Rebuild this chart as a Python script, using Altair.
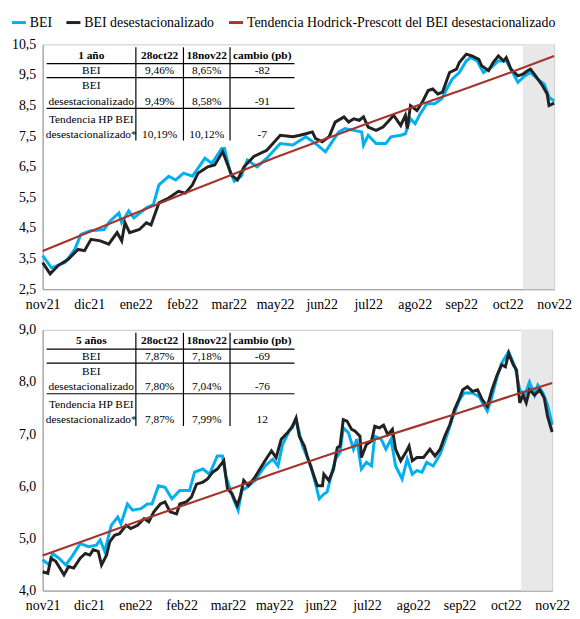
import altair as alt
import pandas as pd

MONTHS = ["nov21", "dic21", "ene22", "feb22", "mar22", "may22",
          "jun22", "jul22", "ago22", "sep22", "oct22", "nov22"]
SERIES = ["BEI", "BEI desestacionalizado",
          "Tendencia Hodrick-Prescott del BEI desestacionalizado"]
COLORS = ["#00b0f0", "#222222", "#a6342f"]
BAND = [10.33, 11.0]  # periodo 28oct22 - 18nov22

# ---- 1 año ----
T_BEI_1 = [0, 0.19, 0.48, 0.69, 0.82, 1.03, 1.32, 1.45, 1.64, 1.70, 1.85, 1.96, 2.23, 2.38,
           2.50, 2.71, 2.86, 3.03, 3.22, 3.49, 3.64, 3.85, 3.91, 4.02, 4.12, 4.27, 4.40,
           4.61, 4.82, 5.11, 5.38, 5.66, 5.91, 6.08, 6.27, 6.37, 6.50, 6.69, 6.86, 6.90,
           7.00, 7.17, 7.38, 7.49, 7.70, 7.80, 7.91, 8.01, 8.12, 8.26, 8.43, 8.58, 8.69,
           8.81, 8.96, 9.11, 9.21, 9.34, 9.48, 9.65, 9.80, 9.97, 10.07, 10.22, 10.37,
           10.49, 10.64, 10.79, 10.89, 11.0]
BEI_1 = [3.60, 3.20, 3.37, 3.80, 4.29, 4.41, 4.45, 4.73, 4.99, 4.67, 5.06, 4.83, 5.16, 5.26,
         5.91, 6.19, 6.07, 6.29, 6.19, 6.78, 6.61, 7.10, 7.10, 6.40, 6.03, 6.19, 6.72,
         6.50, 6.78, 7.26, 7.21, 7.48, 7.21, 6.99, 7.42, 7.64, 7.75, 7.69, 7.64, 7.21,
         7.53, 7.26, 7.26, 7.48, 7.53, 7.58, 8.07, 7.91, 8.23, 8.56, 8.56, 8.72, 9.04,
         9.37, 9.58, 9.96, 10.07, 9.96, 9.58, 9.75, 9.96, 9.96, 9.69, 9.26, 9.47,
         9.58, 9.37, 9.20, 8.77, 8.65]
T_DES_1 = [0, 0.16, 0.34, 0.55, 0.76, 0.90, 1.04, 1.24, 1.42, 1.60, 1.70, 1.77, 1.87, 2.08,
           2.23, 2.33, 2.50, 2.71, 2.92, 3.07, 3.22, 3.34, 3.55, 3.70, 3.87, 3.95, 4.06,
           4.19, 4.33, 4.54, 4.82, 5.11, 5.38, 5.53, 5.66, 5.80, 5.87, 6.01, 6.16, 6.29,
           6.48, 6.58, 6.69, 6.81, 6.90, 7.00, 7.17, 7.32, 7.42, 7.55, 7.70, 7.80, 7.84,
           7.91, 8.05, 8.18, 8.29, 8.39, 8.50, 8.60, 8.75, 8.90, 8.96, 9.11, 9.23, 9.38,
           9.44, 9.59, 9.69, 9.80, 9.91, 9.97, 10.07, 10.22, 10.33, 10.43, 10.49, 10.60,
           10.75, 10.85, 10.89, 11.0]
DES_1 = [3.37, 3.00, 3.28, 3.48, 3.80, 3.76, 4.13, 4.08, 3.97, 4.35, 4.08, 4.67, 4.35, 4.45,
         4.67, 4.60, 5.32, 5.48, 5.70, 5.64, 5.91, 6.29, 6.50, 6.56, 6.99, 6.68, 6.23,
         6.07, 6.50, 6.84, 7.04, 7.53, 7.48, 7.53, 7.58, 7.64, 7.42, 7.32, 7.48, 7.96,
         8.13, 7.96, 8.07, 8.02, 8.13, 7.80, 7.69, 7.80, 7.96, 8.18, 7.85, 8.18, 7.75,
         8.50, 8.34, 8.66, 8.99, 9.04, 8.88, 8.94, 9.58, 9.69, 9.91, 10.18, 10.12, 10.01,
         9.80, 9.64, 9.91, 10.12, 9.96, 10.07, 9.69, 9.47, 9.53, 9.64, 9.69, 9.47,
         9.15, 8.88, 8.50, 8.58]
T_HP = list(range(12))
HP_1 = [3.75, 4.37, 4.99, 5.60, 6.20, 6.80, 7.37, 7.92, 8.47, 9.00, 9.55, 10.12]

# ---- 5 años ----
T_BEI_5 = [0, 0.14, 0.21, 0.35, 0.50, 0.63, 0.81, 0.99, 1.16, 1.24, 1.34, 1.48, 1.62, 1.69,
           1.83, 1.94, 2.12, 2.26, 2.36, 2.50, 2.64, 2.79, 2.96, 3.17, 3.28, 3.46, 3.60,
           3.77, 3.88, 3.95, 4.13, 4.22, 4.30, 4.41, 4.58, 4.80, 4.97, 5.08, 5.18, 5.32,
           5.39, 5.47, 5.61, 5.79, 5.90, 5.97, 6.07, 6.14, 6.21, 6.32, 6.42, 6.49, 6.60,
           6.71, 6.78, 6.88, 6.99, 7.10, 7.17, 7.31, 7.41, 7.52, 7.62, 7.76, 7.87, 7.98,
           8.08, 8.19, 8.29, 8.43, 8.58, 8.72, 8.86, 9.00, 9.10, 9.28, 9.42, 9.60, 9.70,
           9.81, 9.91, 10.06, 10.20, 10.30, 10.41, 10.51, 10.62, 10.69, 10.80, 10.90, 11.0]
BEI_5 = [4.59, 4.49, 4.71, 4.62, 4.49, 4.65, 4.90, 4.84, 4.87, 4.97, 4.75, 5.25, 5.41, 5.28,
         5.66, 5.54, 5.57, 5.66, 5.66, 6.01, 5.98, 5.76, 5.92, 5.92, 6.27, 6.33, 6.23,
         6.58, 6.58, 6.20, 5.73, 5.54, 5.92, 5.98, 6.11, 6.39, 6.52, 6.39, 6.80, 7.06,
         7.12, 7.28, 6.77, 6.39, 6.01, 5.76, 5.85, 5.89, 6.14, 6.52, 6.65, 7.12, 7.03,
         6.71, 6.90, 6.33, 6.46, 6.39, 6.96, 6.90, 6.71, 6.90, 6.39, 6.14, 6.52, 6.23,
         6.30, 6.27, 6.46, 6.39, 6.61, 6.96, 7.34, 7.66, 7.79, 7.79, 7.72, 7.44, 7.72,
         8.10, 8.36, 8.58, 8.29, 7.85, 7.75, 8.00, 7.75, 7.94, 7.79, 7.56, 7.18]
T_DES_5 = [0, 0.11, 0.18, 0.28, 0.46, 0.56, 0.67, 0.81, 0.92, 1.02, 1.09, 1.20, 1.27, 1.38,
           1.45, 1.55, 1.66, 1.80, 1.90, 2.05, 2.19, 2.29, 2.40, 2.54, 2.64, 2.75, 2.89,
           2.96, 3.10, 3.21, 3.32, 3.46, 3.56, 3.67, 3.77, 3.91, 3.99, 4.09, 4.20, 4.27,
           4.34, 4.44, 4.58, 4.69, 4.80, 4.94, 5.04, 5.15, 5.29, 5.39, 5.47, 5.54, 5.65,
           5.72, 5.83, 5.93, 6.04, 6.07, 6.18, 6.28, 6.36, 6.42, 6.49, 6.57, 6.67, 6.74,
           6.85, 6.88, 6.99, 7.10, 7.17, 7.27, 7.36, 7.45, 7.55, 7.62, 7.73, 7.84, 7.91,
           7.98, 8.08, 8.22, 8.36, 8.47, 8.58, 8.68, 8.79, 8.89, 9.00, 9.07, 9.17, 9.28,
           9.39, 9.49, 9.60, 9.70, 9.81, 9.91, 9.99, 10.06, 10.16, 10.23, 10.30, 10.37,
           10.44, 10.51, 10.62, 10.73, 10.83, 10.90, 11.0]
DES_5 = [4.36, 4.33, 4.62, 4.56, 4.30, 4.46, 4.43, 4.62, 4.71, 4.68, 4.78, 4.75, 4.49, 4.68,
         4.94, 5.06, 5.09, 5.25, 5.19, 5.25, 5.38, 5.32, 5.51, 5.66, 5.70, 5.51, 5.47,
         5.66, 5.70, 5.79, 6.04, 6.08, 6.14, 6.27, 6.33, 6.49, 5.95, 5.85, 5.63, 5.82,
         6.11, 6.01, 6.17, 6.33, 6.49, 6.68, 6.55, 6.90, 7.03, 7.15, 7.31, 6.96, 6.77,
         6.55, 6.27, 6.01, 6.01, 6.23, 6.11, 6.33, 6.74, 6.77, 7.28, 7.25, 7.09, 7.06,
         6.96, 6.55, 6.80, 6.87, 7.15, 7.12, 7.17, 6.99, 7.09, 6.71, 6.49, 6.65, 6.77,
         6.49, 6.55, 6.55, 6.71, 6.58, 6.71, 6.96, 7.18, 7.47, 7.69, 7.85, 7.91, 7.82,
         7.85, 7.66, 7.53, 7.85, 8.13, 8.33, 8.29, 8.55, 8.33, 8.23, 7.60, 7.75,
         7.60, 7.85, 7.75, 7.85, 7.69, 7.34, 7.04]
HP_5 = [4.67, 4.99, 5.31, 5.62, 5.93, 6.25, 6.55, 6.85, 7.13, 7.41, 7.70, 7.98]

# ---- tablas ----
HEAD_1 = ["1 año", "28oct22", "18nov22", "cambio (pb)"]
HEAD_5 = ["5 años", "28oct22", "18nov22", "cambio (pb)"]
ROW_NAMES = [["BEI"], ["BEI", "desestacionalizado"],
             ["Tendencia HP BEI", "desestacionalizado*"]]
VALS_1 = [["9,46%", "8,65%", "-82"], ["9,49%", "8,58%", "-91"], ["10,19%", "10,12%", "-7"]]
VALS_5 = [["7,87%", "7,18%", "-69"], ["7,80%", "7,04%", "-76"], ["7,87%", "7,99%", "12"]]

# layout of the inset table (pixels from the plot's top-left corner)
COL_EDGES = [4, 94, 142, 189, 254]
LINE_Y = [11.5, 27, 42.5, 58, 76, 91]
HLINES = [19.5, 33.5, 64.5]
VLINE_SPAN = [3, 97]

FONT = "Liberation Serif"
label_expr = "[" + ",".join("'%s'" % m for m in MONTHS) + "][round(datum.value)]"
comma_expr = "replace(format(datum.value, '.1f'), '.', ',')"


def series_frame(t, v, name):
    return pd.DataFrame({"t": t, "v": v, "serie": name})


def table_layers(head, vals):
    centers = [(COL_EDGES[i] + COL_EDGES[i + 1]) / 2 for i in range(4)]
    cells = []
    for c in range(4):
        cells.append({"px": centers[c], "py": LINE_Y[0], "txt": head[c], "bold": True})
    line = 1
    for r, names in enumerate(ROW_NAMES):
        for k, nm in enumerate(names):
            cells.append({"px": centers[0], "py": LINE_Y[line + k], "txt": nm, "bold": False})
        last = LINE_Y[line + len(names) - 1]
        for c in range(3):
            cells.append({"px": centers[c + 1], "py": last, "txt": vals[r][c], "bold": False})
        line += len(names)
    cells = pd.DataFrame(cells)
    rules = pd.DataFrame(
        [{"x1": COL_EDGES[0], "x2": COL_EDGES[-1], "y1": h, "y2": h} for h in HLINES]
        + [{"x1": x, "x2": x, "y1": VLINE_SPAN[0], "y2": VLINE_SPAN[1]} for x in COL_EDGES[1:4]]
    )
    out = []
    for bold in (True, False):
        out.append(alt.Chart(cells[cells.bold == bold]).mark_text(
            font=FONT, fontSize=11.5, color="black", baseline="middle",
            fontWeight="bold" if bold else "normal").encode(
            x=alt.X("px:Q", scale=None, axis=None),
            y=alt.Y("py:Q", scale=None, axis=None),
            text="txt:N",
        ))
    rl = alt.Chart(rules).mark_rule(color="black", strokeWidth=1.2).encode(
        x=alt.X("x1:Q", scale=None, axis=None), x2="x2:Q",
        y=alt.Y("y1:Q", scale=None, axis=None), y2="y2:Q",
    )
    return [rl] + out


def panel(bei, des, hp, lo, hi, step, head, vals, w, h, legend):
    df = pd.concat([series_frame(*bei, SERIES[0]), series_frame(*des, SERIES[1]),
                    series_frame(*hp, SERIES[2])])
    xs = alt.Scale(domain=[0, 11], nice=False, zero=False)
    ys = alt.Scale(domain=[lo, hi], nice=False, zero=False)
    n = int(round((hi - lo) / step)) + 1
    yvals = [round(lo + i * step, 2) for i in range(n)]
    x_axis = alt.Axis(values=list(range(12)), labelExpr=label_expr, title=None,
                      ticks=False, grid=False, labelFlush=False,
                      labelOverlap=False, labelPadding=8)
    y_axis = alt.Axis(values=yvals, labelExpr=comma_expr, title=None, ticks=False,
                      grid=False, labelPadding=7, labelOverlap=False, labelFlush=False)
    if legend:
        leg = alt.Legend(title=None, orient="none", direction="horizontal",
                         legendX=-33, legendY=-31)
    else:
        leg = None
    color = alt.Color("serie:N", scale=alt.Scale(domain=SERIES, range=COLORS),
                      legend=leg)
    band = alt.Chart(pd.DataFrame({"s": [BAND[0]], "e": [BAND[1]]})).mark_rect(
        color="#e8e8e8").encode(
        x=alt.X("s:Q", scale=xs, axis=x_axis), x2="e:Q",
        y=alt.Y("lo:Q", scale=ys, axis=y_axis), y2="hi:Q").transform_calculate(
        lo=str(lo), hi=str(hi))
    lines = []
    for name, sw in zip(SERIES, [3, 3, 2.2]):
        lines.append(alt.Chart(df[df.serie == name]).mark_line(strokeWidth=sw).encode(
            x=alt.X("t:Q", scale=xs, axis=x_axis),
            y=alt.Y("v:Q", scale=ys, axis=y_axis),
            color=color,
        ))
    data_layer = alt.layer(band, *lines)
    return alt.layer(data_layer, *table_layers(head, vals)).resolve_scale(
        x="independent", y="independent").properties(width=w, height=h)


top = panel((T_BEI_1, BEI_1), (T_DES_1, DES_1), (T_HP, HP_1), 2.5, 10.5, 1.0,
            HEAD_1, VALS_1, 516, 247, True)
bottom = panel((T_BEI_5, BEI_5), (T_DES_5, DES_5), (T_HP, HP_5), 4.0, 9.0, 1.0,
               HEAD_5, VALS_5, 514, 263, False)

chart = alt.vconcat(top, bottom, spacing=10).resolve_legend(color="independent").properties(
    padding={"left": 1, "top": 2, "right": 0, "bottom": 0}
).configure_view(
    stroke="#c8c8c8"
).configure_axis(
    labelFont=FONT, labelFontSize=14, labelColor="black",
    domainColor="#a6a6a6", domainWidth=1.3
).configure_legend(
    labelFont=FONT, labelFontSize=14, labelColor="black",
    symbolType="stroke", symbolStrokeWidth=3, symbolSize=200,
    columnPadding=7, labelOffset=2, padding=0, labelLimit=0
)

chart.save("out.html", embed_options={"renderer": "svg", "actions": False})
